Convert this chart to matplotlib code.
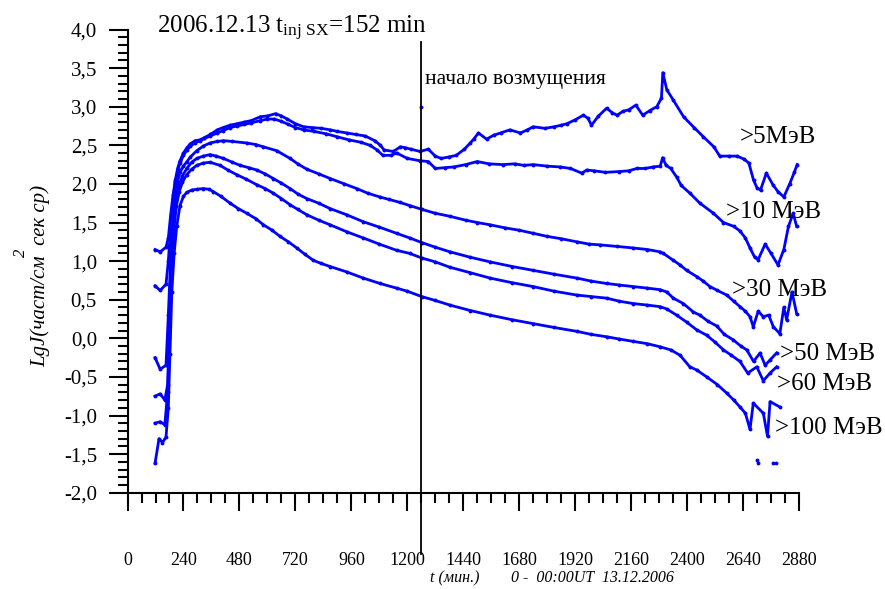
import numpy as np
import matplotlib.pyplot as plt
from matplotlib.ticker import MultipleLocator, FuncFormatter

plt.rcParams['font.family'] = ['Liberation Serif', 'DejaVu Serif']
plt.rcParams['mathtext.fontset'] = 'custom'
plt.rcParams['mathtext.rm'] = 'Liberation Serif'
plt.rcParams['mathtext.it'] = 'Liberation Serif:italic'

# время в минутах от 00:00 UT 13.12.2006, потоки в lg
t_5 = [118, 140, 165, 175, 185, 195, 205, 215, 225, 240, 255, 270, 290, 310, 330, 355, 385,
       410, 440, 470, 500, 530, 570, 600, 635, 660, 685, 720, 755, 790, 830, 870, 900, 940,
       980, 1020, 1060, 1085, 1100, 1140, 1170, 1190, 1215, 1255, 1290, 1320, 1345, 1380,
       1410, 1445, 1470, 1485, 1505, 1540, 1570, 1600, 1640, 1685, 1715, 1740, 1790, 1830,
       1860, 1885, 1920, 1955, 1975, 1990, 2020, 2055, 2080, 2100, 2125, 2150, 2180, 2210,
       2240, 2270, 2290, 2296, 2313, 2340, 2385, 2430, 2470, 2515, 2540, 2580, 2615, 2645,
       2665, 2685, 2700, 2715, 2740, 2770, 2790, 2815, 2840, 2860, 2872]
j_5 = [1.15, 1.12, 1.18, 1.30, 1.60, 1.85, 2.05, 2.20, 2.30, 2.40, 2.47, 2.52, 2.56, 2.57,
       2.60, 2.64, 2.70, 2.73, 2.76, 2.78, 2.80, 2.82, 2.87, 2.88, 2.91, 2.88, 2.84, 2.78,
       2.74, 2.73, 2.72, 2.70, 2.68, 2.66, 2.64, 2.62, 2.56, 2.50, 2.44, 2.42, 2.48, 2.47,
       2.45, 2.42, 2.45, 2.36, 2.33, 2.35, 2.37, 2.45, 2.53, 2.58, 2.66, 2.58, 2.63, 2.66,
       2.70, 2.66, 2.70, 2.74, 2.72, 2.74, 2.76, 2.78, 2.83, 2.89, 2.85, 2.76, 2.88, 2.98,
       2.92, 2.89, 2.94, 2.96, 3.02, 2.89, 2.95, 3.00, 3.11, 3.44, 3.22, 3.09, 2.87, 2.73,
       2.61, 2.48, 2.36, 2.36, 2.36, 2.32, 2.27, 2.05, 1.95, 1.92, 2.14, 1.98, 1.90, 1.83,
       2.00, 2.15, 2.25]
t_5_single = [1260]
j_5_single = [3.0]

t_10 = [118, 140, 165, 175, 185, 195, 205, 215, 225, 240, 255, 270, 290, 310, 330, 355, 385,
        410, 440, 470, 500, 530, 570, 600, 630, 660, 690, 720, 755, 800, 850, 900, 950, 1000,
        1040, 1070, 1095, 1130, 1155, 1200, 1255, 1290, 1320, 1360, 1400, 1450, 1500, 1550,
        1610, 1660, 1700, 1740, 1800, 1855, 1900, 1948, 1970, 2000, 2050, 2110, 2150, 2185,
        2220, 2255, 2285, 2295, 2310, 2330, 2355, 2375, 2412, 2455, 2513, 2556, 2600, 2627,
        2650, 2670, 2690, 2705, 2735, 2760, 2790, 2815, 2835, 2855, 2870]
j_10 = [0.68, 0.62, 0.70, 1.00, 1.45, 1.80, 2.02, 2.17, 2.27, 2.37, 2.44, 2.49, 2.53, 2.56,
        2.59, 2.62, 2.66, 2.69, 2.73, 2.75, 2.77, 2.79, 2.82, 2.84, 2.84, 2.81, 2.77, 2.73,
        2.70, 2.68, 2.65, 2.61, 2.57, 2.54, 2.50, 2.44, 2.37, 2.37, 2.40, 2.33, 2.30, 2.29,
        2.20, 2.21, 2.22, 2.25, 2.29, 2.26, 2.25, 2.26, 2.24, 2.25, 2.23, 2.22, 2.20, 2.14,
        2.18, 2.17, 2.15, 2.16, 2.17, 2.20, 2.20, 2.22, 2.23, 2.34, 2.24, 2.20, 2.09, 1.98,
        1.88, 1.75, 1.62, 1.50, 1.45, 1.39, 1.30, 1.17, 1.05, 1.02, 1.22, 1.10, 0.95, 1.15,
        1.45, 1.62, 1.45]

t_30 = [118, 140, 165, 175, 185, 195, 205, 215, 225, 240, 255, 270, 297, 325, 354, 385, 411,
        450, 511, 550, 583, 640, 697, 730, 769, 820, 869, 930, 983, 1030, 1083, 1120, 1169,
        1210, 1262, 1320, 1383, 1450, 1500, 1555, 1620, 1680, 1740, 1800, 1860, 1927, 1980,
        2027, 2100, 2169, 2230, 2284, 2298, 2341, 2370, 2398, 2441, 2470, 2498, 2530, 2570,
        2600, 2627, 2650, 2670, 2684, 2705, 2727, 2750, 2770, 2798, 2815, 2827, 2850, 2870]
j_30 = [-0.25, -0.40, -0.35, 0.30, 1.05, 1.55, 1.85, 2.03, 2.15, 2.23, 2.29, 2.35, 2.43,
        2.49, 2.53, 2.55, 2.56, 2.55, 2.53, 2.51, 2.48, 2.43, 2.33, 2.26, 2.19, 2.13, 2.07,
        2.00, 1.94, 1.88, 1.83, 1.80, 1.76, 1.72, 1.67, 1.62, 1.58, 1.53, 1.50, 1.47, 1.43,
        1.40, 1.36, 1.32, 1.29, 1.25, 1.22, 1.21, 1.19, 1.17, 1.15, 1.12, 1.10, 1.01, 0.95,
        0.88, 0.80, 0.74, 0.67, 0.62, 0.56, 0.48, 0.41, 0.35, 0.28, 0.15, 0.35, 0.28, 0.30,
        0.15, 0.06, 0.40, 0.24, 0.60, 0.32]

t_50 = [118, 140, 160, 172, 180, 190, 200, 210, 222, 235, 254, 275, 297, 325, 354, 380, 411,
        450, 483, 520, 554, 590, 625, 660, 697, 730, 769, 820, 869, 940, 1011, 1080, 1154,
        1210, 1262, 1320, 1383, 1470, 1555, 1650, 1740, 1830, 1927, 1990, 2055, 2110, 2169,
        2230, 2284, 2313, 2341, 2384, 2427, 2455, 2490, 2527, 2560, 2598, 2630, 2656, 2685,
        2713, 2735, 2756, 2784]
j_50 = [-0.75, -0.72, -0.80, -0.60, 0.20, 1.10, 1.55, 1.80, 1.98, 2.10, 2.20, 2.28, 2.33,
        2.36, 2.38, 2.36, 2.33, 2.28, 2.24, 2.21, 2.18, 2.13, 2.07, 2.01, 1.94, 1.87, 1.81,
        1.75, 1.68, 1.60, 1.51, 1.44, 1.36, 1.30, 1.24, 1.18, 1.12, 1.05, 0.99, 0.93, 0.88,
        0.83, 0.78, 0.74, 0.71, 0.69, 0.67, 0.65, 0.63, 0.60, 0.52, 0.45, 0.34, 0.30, 0.22,
        0.16, 0.05, -0.02, -0.10, -0.15, -0.30, -0.19, -0.35, -0.28, -0.19]

t_60 = [118, 140, 160, 172, 180, 190, 200, 210, 222, 235, 254, 275, 297, 325, 354, 397, 430,
        468, 510, 554, 590, 625, 660, 697, 730, 769, 820, 869, 940, 1011, 1080, 1154, 1210,
        1262, 1320, 1383, 1470, 1555, 1650, 1740, 1830, 1927, 1990, 2055, 2110, 2169, 2230,
        2284, 2313, 2355, 2398, 2441, 2484, 2520, 2556, 2590, 2627, 2660, 2699, 2727, 2756,
        2784]
j_60 = [-1.10, -1.08, -1.12, -0.70, 0.00, 0.95, 1.45, 1.72, 1.90, 2.02, 2.12, 2.19, 2.24,
        2.27, 2.28, 2.24, 2.18, 2.12, 2.06, 1.99, 1.94, 1.88, 1.81, 1.73, 1.67, 1.60, 1.53,
        1.47, 1.38, 1.30, 1.22, 1.14, 1.10, 1.04, 0.99, 0.92, 0.85, 0.78, 0.72, 0.67, 0.61,
        0.56, 0.54, 0.52, 0.48, 0.45, 0.43, 0.41, 0.38, 0.30, 0.21, 0.11, 0.04, -0.05, -0.15,
        -0.22, -0.30, -0.45, -0.37, -0.55, -0.45, -0.37]

t_100 = [118, 135, 150, 165, 175, 182, 190, 200, 211, 225, 240, 254, 275, 297, 325, 350, 368,
         400, 440, 475, 511, 550, 583, 620, 654, 690, 726, 760, 797, 830, 869, 940, 1011, 1083,
         1154, 1200, 1262, 1320, 1383, 1470, 1555, 1650, 1740, 1830, 1927, 1990, 2055, 2110,
         2169, 2230, 2284, 2330, 2370, 2412, 2441, 2484, 2530, 2570, 2600, 2627, 2650, 2670,
         2684, 2727, 2745, 2756, 2798]
j_100 = [-1.62, -1.30, -1.35, -1.28, -0.90, -0.20, 0.60, 1.10, 1.45, 1.72, 1.84, 1.89, 1.92,
         1.93, 1.94, 1.93, 1.90, 1.84, 1.75, 1.68, 1.62, 1.55, 1.47, 1.40, 1.32, 1.25, 1.17,
         1.09, 1.01, 0.97, 0.93, 0.86, 0.78, 0.71, 0.65, 0.61, 0.54, 0.49, 0.43, 0.36, 0.30,
         0.24, 0.19, 0.14, 0.09, 0.05, 0.02, -0.01, -0.04, -0.07, -0.11, -0.15, -0.22, -0.37,
         -0.41, -0.50, -0.60, -0.71, -0.80, -0.89, -0.97, -1.18, -0.84, -0.97, -1.27, -0.82,
         -0.89]
t_100_low = [2700, 2706, 2770, 2780]
j_100_low = [-1.58, -1.62, -1.62, -1.62]

labels = ['>5МэВ', '>10 МэВ', '>30 МэВ', '>50 МэВ', '>60 МэВ', '>100 МэВ']
t_onset = 1260

series = [(t_5, j_5), (t_10, j_10), (t_30, j_30), (t_50, j_50), (t_60, j_60), (t_100, j_100)]

fig = plt.figure(figsize=(8.85, 5.89), dpi=100)
ax = fig.add_axes([0.1441, 0.1635, 0.7587, 0.7864])

blue = '#0000ff'
for t, j in series:
    ax.plot(t, j, '-', color=blue, lw=2.0, marker='o', ms=2.8, mew=0)
ax.plot(t_5_single, j_5_single, 'o', color=blue, ms=2.8, mew=0)
ax.plot(t_100_low, j_100_low, 'o', color=blue, ms=2.8, mew=0)

# начало возмущения
ax.plot([t_onset, t_onset], [-2.8, 3.84], color='black', lw=1.3, clip_on=False)
ax.text(t_onset + 16, 3.29, 'начало возмущения', fontsize=15.5, va='baseline', ha='left')

# подписи энергий
label_pos = [(2627, 2.61), (2567, 1.64), (2591, 0.63), (2799, -0.20), (2786, -0.59), (2777, -1.16)]
for s, (lx, ly) in zip(labels, label_pos):
    ax.text(lx, ly, s, fontsize=18, ha='left', va='center', clip_on=False)

ax.set_xlim(0, 2880)
ax.set_ylim(-2, 4)
ax.spines['top'].set_visible(False)
ax.spines['right'].set_visible(False)
for s in ('left', 'bottom'):
    ax.spines[s].set_linewidth(1.5)

ax.xaxis.set_major_locator(MultipleLocator(240))
ax.xaxis.set_minor_locator(MultipleLocator(60))
ax.yaxis.set_major_locator(MultipleLocator(0.5))
ax.yaxis.set_minor_locator(MultipleLocator(0.1))
ax.yaxis.set_major_formatter(FuncFormatter(lambda v, p: f'{v:.1f}'.replace('.', ',').replace('-0,0', '0,0')))

ax.tick_params(axis='x', which='major', length=13, width=1.5, labelsize=13, pad=30)
ax.tick_params(axis='x', which='minor', length=7, width=1.5)
ax.tick_params(axis='y', which='major', length=14, width=1.5, labelsize=15, pad=8)
ax.tick_params(axis='y', which='minor', length=7, width=1.5)

fig.text(157 / 885, 1 - 33 / 589, r'2006.12.13 t$_{\mathrm{inj\ SX}}$=152 min', fontsize=18,
         ha='left', va='baseline')

fig.text(40 / 885, 1 - 276 / 589, 'LgJ(част/см  сек ср)', rotation=90, fontsize=15,
         style='italic', ha='center', va='center')
fig.text(21 / 885, 1 - 253 / 589, '2', rotation=90, fontsize=12, style='italic',
         ha='center', va='center')

fig.text(430 / 885, 1 - 578 / 589, 't (мин.)', fontsize=11.5, style='italic', ha='left', va='center')
fig.text(511 / 885, 1 - 578 / 589, '0 -  00:00UT  13.12.2006', fontsize=11.5, style='italic',
         ha='left', va='center')

fig.savefig('out.png', dpi=100)
